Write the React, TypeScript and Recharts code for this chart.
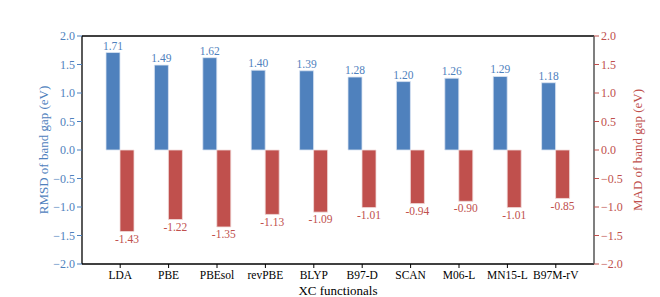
import React from 'react';
import { BarChart, Bar, XAxis, YAxis, LabelList, ReferenceLine, Label } from 'recharts';

// XC functionals and their band-gap errors (eV)
const functionals = ['LDA', 'PBE', 'PBEsol', 'revPBE', 'BLYP', 'B97-D', 'SCAN', 'M06-L', 'MN15-L', 'B97M-rV'];
const rmsdValues = [1.71, 1.49, 1.62, 1.40, 1.39, 1.28, 1.20, 1.26, 1.29, 1.18];
const madValues = [-1.43, -1.22, -1.35, -1.13, -1.09, -1.01, -0.94, -0.90, -1.01, -0.85];
const yTicks = [-2.0, -1.5, -1.0, -0.5, 0.0, 0.5, 1.0, 1.5, 2.0];

const BLUE = '#4f81bd';
const RED = '#c0504d';
const FONT = '"Liberation Serif", "DejaVu Serif", serif';

const data = functionals.map((name, i) => ({ name, rmsd: rmsdValues[i], mad: madValues[i] }));

const fmtTick = (v: number) => (v < 0 ? '\u2212' : '') + Math.abs(v).toFixed(1);
const fmtBar = (v: any) => Number(v).toFixed(2);

const App: React.FC = () => {
  return (
    <div style={{ position: 'absolute', left: 0, top: 0, background: '#fff' }}>
      <BarChart
        width={660}
        height={297}
        data={data}
        margin={{ top: 36, right: 0, bottom: 0, left: 0 }}
        barGap={0}
        barSize={14}
        style={{ fontFamily: FONT }}
      >
        <XAxis
          dataKey="name"
          height={33}
          padding={{ left: 14, right: 14 }}
          tickSize={4}
          tickMargin={3}
          axisLine={{ stroke: '#000', strokeWidth: 1.3 }}
          tickLine={{ stroke: '#000' }}
          tick={{ fill: '#000', fontSize: 11.5, fontFamily: FONT }}
          interval={0}
        >
          <Label value="XC functionals" position="insideBottom" offset={2} style={{ fill: '#000', fontSize: 13, fontFamily: FONT }} />
        </XAxis>
        <YAxis
          yAxisId="left"
          width={82}
          domain={[-2, 2]}
          ticks={yTicks}
          tickFormatter={fmtTick}
          tickSize={5}
          tickMargin={2}
          axisLine={{ stroke: '#000', strokeWidth: 1.3 }}
          tickLine={{ stroke: BLUE }}
          tick={{ fill: BLUE, fontSize: 12, fontFamily: FONT }}
          allowDataOverflow
        >
          <Label value="RMSD of band gap (eV)" angle={-90} position="center" dx={2} style={{ fill: BLUE, fontSize: 13, fontFamily: FONT, textAnchor: 'middle' }} />
        </YAxis>
        <YAxis
          yAxisId="right"
          orientation="right"
          width={66}
          domain={[-2, 2]}
          ticks={yTicks}
          tickFormatter={fmtTick}
          tickSize={5}
          tickMargin={2}
          axisLine={{ stroke: '#555', strokeWidth: 1.5 }}
          tickLine={{ stroke: RED }}
          tick={{ fill: RED, fontSize: 12, fontFamily: FONT }}
          allowDataOverflow
        >
          <Label value="MAD of band gap (eV)" angle={-90} position="center" dx={10} style={{ fill: RED, fontSize: 13, fontFamily: FONT, textAnchor: 'middle' }} />
        </YAxis>
        <ReferenceLine yAxisId="left" y={2} stroke="#000" strokeWidth={1.3} />
        <Bar yAxisId="left" dataKey="rmsd" fill={BLUE} stroke="#dbe5f3" strokeWidth={0.8} isAnimationActive={false}>
          <LabelList dataKey="rmsd" position="top" offset={3} formatter={fmtBar} style={{ fill: BLUE, fontSize: 11.5, fontFamily: FONT }} />
        </Bar>
        <Bar yAxisId="right" dataKey="mad" fill={RED} stroke="#f1dcdb" strokeWidth={0.8} isAnimationActive={false}>
          <LabelList dataKey="mad" position="top" offset={3} formatter={fmtBar} style={{ fill: RED, fontSize: 11.5, fontFamily: FONT }} />
        </Bar>
      </BarChart>
    </div>
  );
};

export default App;
